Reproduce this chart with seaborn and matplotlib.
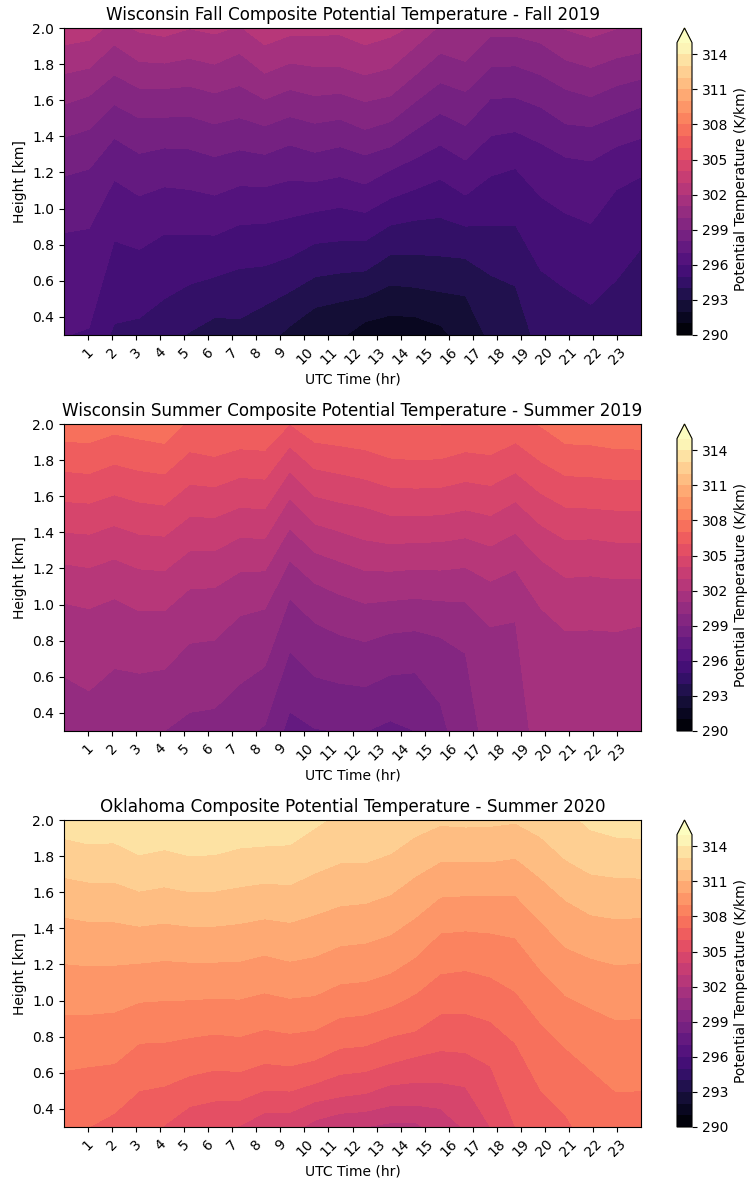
import numpy as np
import matplotlib
matplotlib.use("Agg")
import matplotlib.pyplot as plt
import seaborn as sns

hours = [0, 1.04, 2.09, 3.13, 4.17, 5.22, 6.26, 7.30, 8.35, 9.39, 10.43, 11.48,
         12.52, 13.57, 14.61, 15.65, 16.70, 17.74, 18.78, 19.83, 20.87, 21.91, 22.96, 24]

# Height (km) of each potential-temperature isotherm at each time.
# Values outside 0.3-2.0 km lie off the axes.
fall_theta = [291, 292, 293, 294, 295, 296, 297, 298, 299, 300, 301, 302, 303]
fall_291 = [-0.5] * 24
fall_292 = [-0.4, -0.4, -0.4, -0.4, -0.4, -0.4, -0.4, -0.4, -0.4, -0.4, 0.12, 0.276, 0.373, 0.410, 0.401, 0.354, 0.21, 0.0, -0.1, -0.2, -0.2, -0.2, -0.2, -0.2]
fall_293 = [-0.3, -0.3, -0.3, -0.3, -0.3, -0.3, -0.05, 0.03, 0.229, 0.349, 0.452, 0.484, 0.512, 0.577, 0.564, 0.540, 0.517, 0.233, 0.1, -0.1, -0.1, -0.1, -0.1, -0.1]
fall_294 = [-0.2, -0.15, -0.05, 0.03, 0.224, 0.317, 0.397, 0.391, 0.465, 0.540, 0.622, 0.644, 0.655, 0.746, 0.746, 0.738, 0.724, 0.632, 0.571, 0.135, 0.0, -0.05, 0.0, 0.0]
fall_295 = [-0.1, 0.0, 0.363, 0.394, 0.501, 0.581, 0.622, 0.668, 0.683, 0.733, 0.807, 0.822, 0.822, 0.909, 0.936, 0.951, 0.903, 0.909, 0.909, 0.659, 0.557, 0.470, 0.603, 0.779]
fall_296 = [0.289, 0.339, 0.822, 0.774, 0.859, 0.859, 0.853, 0.912, 0.918, 0.951, 0.983, 1.007, 0.979, 1.057, 1.108, 1.164, 1.075, 1.180, 1.223, 1.066, 0.974, 0.918, 1.103, 1.177]
fall_297 = [0.867, 0.890, 1.158, 1.071, 1.121, 1.106, 1.075, 1.127, 1.121, 1.158, 1.149, 1.177, 1.136, 1.214, 1.279, 1.353, 1.269, 1.403, 1.427, 1.362, 1.285, 1.264, 1.343, 1.390]
fall_298 = [1.180, 1.219, 1.390, 1.306, 1.336, 1.330, 1.288, 1.325, 1.301, 1.353, 1.312, 1.343, 1.297, 1.343, 1.436, 1.528, 1.460, 1.610, 1.615, 1.562, 1.469, 1.454, 1.510, 1.562]
fall_299 = [1.395, 1.439, 1.576, 1.502, 1.506, 1.512, 1.469, 1.504, 1.458, 1.510, 1.473, 1.495, 1.439, 1.482, 1.593, 1.698, 1.648, 1.784, 1.791, 1.741, 1.661, 1.620, 1.680, 1.717]
fall_300 = [1.578, 1.624, 1.741, 1.667, 1.665, 1.678, 1.641, 1.682, 1.606, 1.660, 1.626, 1.639, 1.593, 1.624, 1.741, 1.861, 1.815, 1.954, 1.954, 1.917, 1.824, 1.782, 1.834, 1.865]
fall_301 = [1.747, 1.778, 1.907, 1.815, 1.806, 1.832, 1.800, 1.861, 1.750, 1.806, 1.787, 1.787, 1.741, 1.778, 1.898, 2.018, 1.996, 2.10, 2.10, 2.065, 1.991, 1.948, 1.996, 2.028]
fall_302 = [1.907, 1.932, 2.046, 1.978, 1.954, 1.996, 1.967, 2.013, 1.907, 1.959, 1.959, 1.963, 1.907, 1.950, 2.028, 2.083, 2.15, 2.15, 2.15, 2.15, 2.15, 2.15, 2.15, 2.15]
fall_303 = [2.6] * 24

wi_summer_theta = [297, 298, 299, 300, 301, 302, 303, 304, 305, 306, 307, 308]
wi_297 = [-0.8] * 24
wi_298 = [-0.7, -0.7, -0.7, -0.7, -0.7, -0.7, -0.7, -0.7, 0.01, 0.407, 0.315, 0.295, 0.295, 0.357, 0.30, 0.10, -0.3, -0.7, -0.7, -0.7, -0.7, -0.7, -0.7, -0.7]
wi_299 = [-0.6, -0.6, -0.6, -0.6, -0.6, -0.6, -0.6, 0.231, 0.333, 0.740, 0.601, 0.564, 0.546, 0.610, 0.623, 0.453, -0.059, -0.27, -0.4, -0.6, -0.6, -0.6, -0.6, -0.6]
wi_300 = [-0.5, -0.5, -0.5, 0.01, 0.30, 0.403, 0.425, 0.559, 0.657, 1.035, 0.900, 0.832, 0.795, 0.841, 0.856, 0.819, 0.730, -0.083, -0.27, -0.5, -0.5, -0.5, -0.5, -0.5]
wi_301 = [0.601, 0.523, 0.647, 0.620, 0.642, 0.786, 0.804, 0.937, 0.976, 1.244, 1.119, 1.055, 1.008, 1.022, 1.035, 1.021, 1.015, 0.878, 0.906, -0.195, -0.4, -0.4, -0.4, -0.4]
wi_302 = [1.008, 0.978, 1.033, 0.965, 0.965, 1.087, 1.094, 1.181, 1.187, 1.423, 1.289, 1.239, 1.189, 1.185, 1.196, 1.191, 1.206, 1.130, 1.192, 0.980, 0.854, 0.860, 0.851, 0.882]
wi_303 = [1.226, 1.205, 1.253, 1.198, 1.187, 1.298, 1.298, 1.372, 1.366, 1.590, 1.447, 1.405, 1.359, 1.337, 1.344, 1.348, 1.370, 1.325, 1.396, 1.248, 1.150, 1.159, 1.143, 1.143]
wi_304 = [1.401, 1.390, 1.438, 1.390, 1.379, 1.488, 1.483, 1.538, 1.531, 1.738, 1.601, 1.566, 1.540, 1.494, 1.494, 1.497, 1.525, 1.494, 1.571, 1.442, 1.359, 1.364, 1.346, 1.346]
wi_305 = [1.571, 1.562, 1.608, 1.568, 1.551, 1.666, 1.653, 1.704, 1.695, 1.876, 1.752, 1.725, 1.695, 1.651, 1.645, 1.649, 1.682, 1.660, 1.732, 1.617, 1.540, 1.534, 1.523, 1.520]
wi_306 = [1.738, 1.726, 1.778, 1.743, 1.723, 1.847, 1.821, 1.863, 1.854, 2.000, 1.900, 1.880, 1.858, 1.812, 1.802, 1.808, 1.847, 1.830, 1.898, 1.793, 1.714, 1.708, 1.693, 1.690]
wi_307 = [1.904, 1.897, 1.945, 1.917, 1.893, 2.035, 2.002, 2.024, 2.024, 2.246, 2.079, 2.061, 2.024, 1.996, 1.994, 1.994, 2.024, 2.015, 2.079, 1.987, 1.891, 1.885, 1.863, 1.861]
wi_308 = [2.6] * 24

ok_theta = [302, 303, 304, 305, 306, 307, 308, 309, 310, 311, 312, 313, 314]
ok_302 = [-1.5] * 24
ok_303 = [-1.2, -1.2, -1.2, -1.2, -1.2, -1.2, -1.2, -1.2, -1.2, -1.2, -1.2, 0.108, 0.300, 0.324, 0.326, 0.239, -0.1, -1.2, -1.2, -1.2, -1.2, -1.2, -1.2, -1.2]
ok_304 = [-1.0, -1.0, -1.0, -1.0, -1.0, -1.0, -1.0, -1.0, -0.077, 0.255, 0.338, 0.376, 0.386, 0.418, 0.421, 0.403, 0.280, -0.077, -0.3, -1.0, -1.0, -1.0, -1.0, -1.0]
ok_305 = [-0.8, -0.8, -0.8, -0.8, -0.8, -0.077, 0.283, 0.307, 0.381, 0.381, 0.440, 0.468, 0.486, 0.533, 0.547, 0.547, 0.523, 0.300, 0.108, -0.26, -0.8, -0.8, -0.8, -0.8]
ok_306 = [-0.26, -0.26, -0.17, 0.015, 0.311, 0.413, 0.444, 0.448, 0.505, 0.499, 0.542, 0.592, 0.607, 0.653, 0.690, 0.723, 0.712, 0.638, 0.300, -0.077, -0.45, -0.45, -0.63, -0.63]
ok_307 = [0.108, 0.300, 0.376, 0.501, 0.527, 0.584, 0.615, 0.607, 0.653, 0.638, 0.671, 0.736, 0.749, 0.801, 0.832, 0.926, 0.930, 0.884, 0.764, 0.505, 0.366, 0.128, -0.26, -0.26]
ok_308 = [0.612, 0.634, 0.651, 0.764, 0.769, 0.795, 0.815, 0.801, 0.841, 0.819, 0.837, 0.906, 0.921, 0.967, 1.037, 1.148, 1.167, 1.130, 1.050, 0.875, 0.736, 0.616, 0.495, 0.501]
ok_309 = [0.924, 0.924, 0.936, 0.991, 1.000, 1.004, 1.013, 1.008, 1.043, 1.013, 1.028, 1.093, 1.106, 1.152, 1.240, 1.374, 1.386, 1.374, 1.346, 1.170, 1.026, 0.958, 0.893, 0.902]
ok_310 = [1.205, 1.192, 1.196, 1.207, 1.222, 1.213, 1.213, 1.218, 1.252, 1.218, 1.244, 1.303, 1.318, 1.364, 1.460, 1.573, 1.581, 1.581, 1.582, 1.438, 1.294, 1.235, 1.198, 1.209]
ok_311 = [1.462, 1.438, 1.436, 1.412, 1.429, 1.412, 1.412, 1.427, 1.453, 1.433, 1.475, 1.525, 1.538, 1.586, 1.688, 1.769, 1.769, 1.769, 1.789, 1.678, 1.555, 1.475, 1.453, 1.460]
ok_312 = [1.682, 1.656, 1.656, 1.606, 1.630, 1.603, 1.606, 1.630, 1.651, 1.641, 1.706, 1.762, 1.763, 1.813, 1.909, 1.970, 1.961, 1.965, 1.983, 1.906, 1.780, 1.701, 1.682, 1.678]
ok_313 = [1.898, 1.867, 1.874, 1.808, 1.836, 1.802, 1.808, 1.845, 1.856, 1.863, 1.956, 2.048, 2.177, 2.214, 2.25, 2.25, 2.25, 2.25, 2.177, 2.14, 2.067, 1.946, 1.906, 1.897]
ok_314 = [2.6] * 24

levels = list(range(290, 316))
cbar_ticks = [290, 293, 296, 299, 302, 305, 308, 311, 314]
hour_ticks = list(range(1, 24))
height_ticks = [0.4, 0.6, 0.8, 1.0, 1.2, 1.4, 1.6, 1.8, 2.0]
titles = ["Wisconsin Fall Composite Potential Temperature - Fall 2019",
          "Wisconsin Summer Composite Potential Temperature - Summer 2019",
          "Oklahoma Composite Potential Temperature - Summer 2020"]
panels = [
    (fall_theta, [fall_291, fall_292, fall_293, fall_294, fall_295, fall_296, fall_297,
                  fall_298, fall_299, fall_300, fall_301, fall_302, fall_303]),
    (wi_summer_theta, [wi_297, wi_298, wi_299, wi_300, wi_301, wi_302, wi_303, wi_304,
                       wi_305, wi_306, wi_307, wi_308]),
    (ok_theta, [ok_302, ok_303, ok_304, ok_305, ok_306, ok_307, ok_308, ok_309, ok_310,
                ok_311, ok_312, ok_313, ok_314]),
]

W, H = 752, 1183
tops = [28, 424, 820]
cmap = sns.color_palette("magma", as_cmap=True)
fig = plt.figure(figsize=(W / 100, H / 100), dpi=100)


def rect(x0, y0, x1, y1):
    return [x0 / W, 1 - y1 / H, (x1 - x0) / W, (y1 - y0) / H]


for top, title, (theta, rows) in zip(tops, titles, panels):
    ax = fig.add_axes(rect(64, top, 641, top + 307))
    heights = np.array(rows)
    X = np.tile(np.array(hours), (len(theta), 1))
    Z = np.tile(np.array(theta, dtype=float)[:, None], (1, len(hours)))
    cs = ax.contourf(X, heights, Z, levels=levels, cmap=cmap, extend="max")
    ax.set_xlim(0, 24)
    ax.set_ylim(0.3, 2.0)
    ax.set_xticks(hour_ticks)
    ax.set_xticklabels([str(h) for h in hour_ticks], rotation=45)
    ax.set_yticks(height_ticks)
    ax.set_xlabel("UTC Time (hr)", fontsize=10)
    ax.set_ylabel("Height [km]", fontsize=10)
    ax.set_title(title, fontsize=12.1, pad=6)
    cax = fig.add_axes(rect(677, top, 692, top + 307))
    cb = fig.colorbar(cs, cax=cax, ticks=cbar_ticks)
    cb.set_label("Potential Temperature (K/km)", fontsize=10)

fig.savefig("out.png", dpi=100)
